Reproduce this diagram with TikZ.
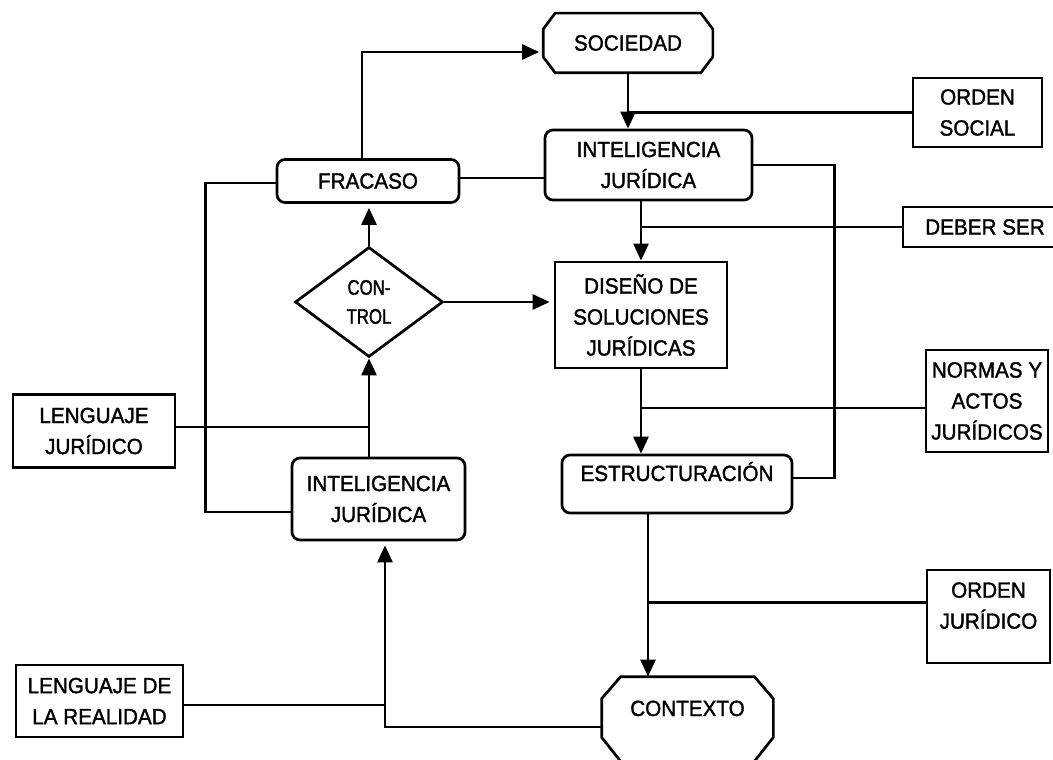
\documentclass[tikz,border=0pt]{standalone}
\usepackage{fontspec}
\setmainfont{Liberation Sans}[FakeBold=1.5, FakeStretch=0.94]
\newfontfamily\narrowfont{Liberation Sans}[FakeBold=1.5, FakeStretch=0.8]
\usepackage{tikz}
\usetikzlibrary{shapes, arrows.meta, positioning}

\begin{document}
\begin{tikzpicture}[auto, x=1pt, y=-1pt, line width=2.7pt, >={Triangle[length=17pt,width=15pt]}]
        % Define block styles
        \tikzstyle{every node} = [font=\fontsize{22}{31}\selectfont, align=center, inner sep=0pt, line width=2.7pt]
        \tikzstyle{block} = [draw, rectangle, rounded corners=8pt]
        \tikzstyle{plain} = [draw, rectangle]
        \tikzstyle{terminal} = [rectangle]
        \tikzstyle{decision} = [draw, diamond, font=\narrowfont\fontsize{21}{29}\selectfont]
        \tikzstyle{link} = [shorten >=4pt]

        \useasboundingbox (0,0) rectangle (1053,760);

        % Nodes
        \node [terminal, minimum width=167pt, minimum height=57pt] (sociedad) at (628,43) {SOCIEDAD};
        \node [plain, minimum width=129pt, minimum height=69pt] (ordensocial) at (977.5,112.5) {ORDEN\\SOCIAL};
        \node [block, minimum width=207pt, minimum height=70pt] (intjur) at (648.5,165) {INTELIGENCIA\\JURÍDICA};
        \node [block, minimum width=182pt, minimum height=43pt] (fracaso) at (368,181) {FRACASO};
        \node [plain, minimum width=164pt, minimum height=40pt] (deberser) at (985,227) {DEBER SER};
        \node [decision, minimum width=148pt, minimum height=110pt] (control) at (369,302) {CON-\\TROL};
        \node [plain, minimum width=172pt, minimum height=106pt] (diseno) at (641,315) {DISEÑO DE\\SOLUCIONES\\JURÍDICAS};
        \node [plain, minimum width=122pt, minimum height=102pt] (normas) at (987,401) {NORMAS Y\\ACTOS\\JURÍDICOS};
        \node [plain, minimum width=162pt, minimum height=73pt] (lengjur) at (94,431) {LENGUAJE\\JURÍDICO};
        \node [block, minimum width=230pt, minimum height=58pt, text height=16pt, text depth=22pt] (estruct) at (677,484) {ESTRUCTURACIÓN};
        \node [block, minimum width=173pt, minimum height=82pt] (intreal) at (378.5,499) {INTELIGENCIA\\JURÍDICA};
        \node [plain, minimum width=123pt, minimum height=93pt, text depth=22pt] (ordenjur) at (988.5,616.5) {ORDEN\\JURÍDICO};
        \node [plain, minimum width=167pt, minimum height=72pt] (lengreal) at (99.5,701) {LENGUAJE DE\\LA REALIDAD};
        \node [terminal, minimum width=169pt, minimum height=82pt, text height=16pt, text depth=22pt] (contexto) at (687.5,719) {CONTEXTO};

        % Chamfered outlines of the two terminals
        \draw ([xshift=12pt]sociedad.north west) -- ([xshift=-12pt]sociedad.north east) -- ([yshift=-16pt]sociedad.north east)
            -- ([yshift=16pt]sociedad.south east) -- ([xshift=-12pt]sociedad.south east) -- ([xshift=12pt]sociedad.south west)
            -- ([yshift=16pt]sociedad.south west) -- ([yshift=-16pt]sociedad.north west) -- cycle;
        \draw ([xshift=19pt]contexto.north west) -- ([xshift=-19pt]contexto.north east) -- ([yshift=-22pt]contexto.north east)
            -- ([yshift=24pt]contexto.south east) -- ([xshift=-19pt]contexto.south east) -- ([xshift=19pt]contexto.south west)
            -- ([yshift=24pt]contexto.south west) -- ([yshift=-22pt]contexto.north west) -- cycle;

        % Edges
        \draw [->, link] ([xshift=-6pt]fracaso.north) |- ([yshift=-9pt]sociedad.west);
        \draw [->] (sociedad.south) -- (sociedad.south |- intjur.north);
        \draw (ordensocial.west) -- (ordensocial.west -| sociedad.south);
        \draw [->] (diseno.north |- intjur.south) -- (diseno.north);
        \draw (deberser.west) -- (deberser.west -| diseno.north);
        \draw [->] (diseno.south) -- (diseno.south |- estruct.north);
        \draw ([yshift=-7pt]normas.west) -- ([yshift=-7pt]normas.west -| diseno.south);
        \draw [->] ([xshift=-29pt]estruct.south) -- ([xshift=-29pt]estruct.south |- contexto.north);
        \draw ([yshift=14pt]ordenjur.west) -- ([xshift=-29pt,yshift=14pt]ordenjur.west -| estruct.south);
        \draw (intjur.east) -- ++(81,0) |- ([yshift=6pt]estruct.east);
        \draw ([yshift=3pt]fracaso.east) -- ([yshift=3pt]fracaso.east -| intjur.west);
        \draw ([yshift=-2pt]fracaso.west) -- ++(-70,0) |- ([yshift=-13pt]intreal.west);
        \draw [->, link] (control.north) -- (control.north |- fracaso.south);
        \draw [->, link] (control.east) -- (control.east -| diseno.west);
        \draw [->] (control.south |- intreal.north) -- (control.south);
        \draw ([yshift=4pt]lengjur.east) -- ([yshift=4pt]lengjur.east -| control.south);
        \draw [->, link] ([yshift=-8pt]contexto.west) -| ([xshift=6.5pt]intreal.south);
        \draw ([yshift=-4pt]lengreal.east) -- ([xshift=6.5pt,yshift=-4pt]lengreal.east -| intreal.south);
    \end{tikzpicture}
\end{document}
